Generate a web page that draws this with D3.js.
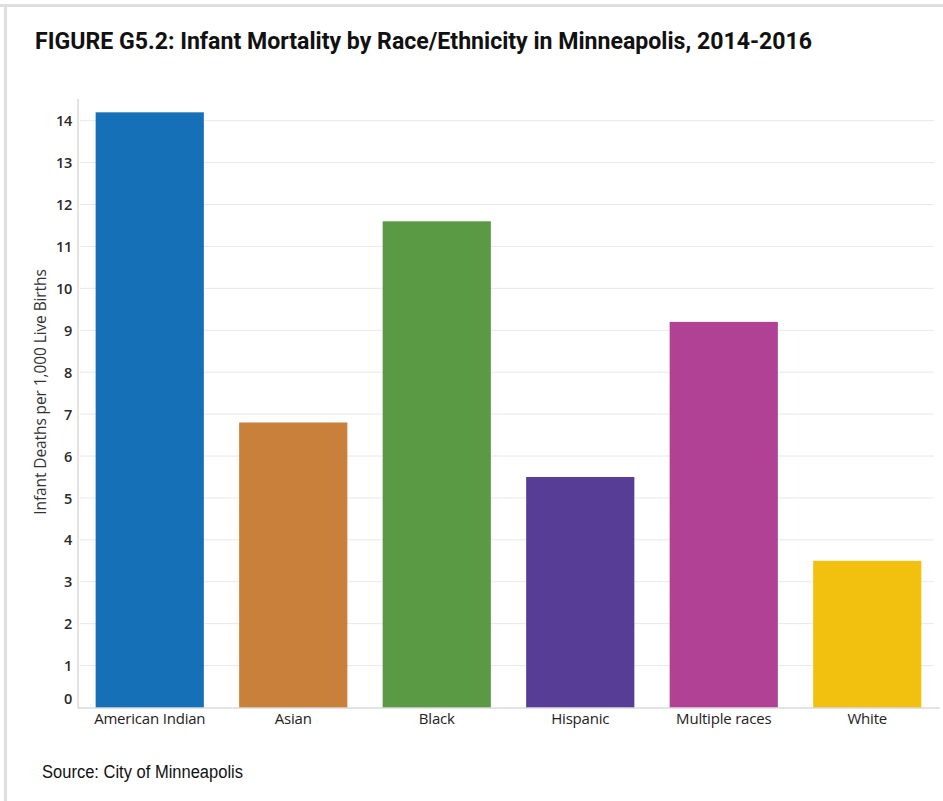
<!DOCTYPE html>
<html>
<head>
<meta charset="utf-8">
<script src="https://cdn.jsdelivr.net/npm/d3@7"></script>
<style>
html,body{margin:0;padding:0;background:#fff;}
svg{display:block;}
</style>
</head>
<body>
<svg id="chart" width="943" height="801"></svg>
<script>
const categories = ["American Indian", "Asian", "Black", "Hispanic", "Multiple races", "White"];
const values = [14.2, 6.8, 11.6, 5.5, 9.2, 3.5];
const colors = ["#1570b8", "#c8803a", "#5a9a45", "#583d96", "#b04194", "#f2c10f"];
const yTicks = [0,1,2,3,4,5,6,7,8,9,10,11,12,13,14];
const titleText = "FIGURE G5.2: Infant Mortality by Race/Ethnicity in Minneapolis, 2014-2016";
const yLabel = "Infant Deaths per 1,000 Live Births";
const sourceText = "Source: City of Minneapolis";

const svg = d3.select("#chart");

// frame
svg.append("rect").attr("x",0).attr("y",4).attr("width",943).attr("height",3).attr("fill","#dedede");
svg.append("rect").attr("x",4).attr("y",4).attr("width",3).attr("height",797).attr("fill","#dedede");

// title
svg.append("text")
  .attr("x",35).attr("y",49)
  .attr("font-family","'Liberation Sans Narrow','Roboto','Liberation Sans',sans-serif")
  .attr("font-weight","bold").attr("font-size",23.5)
  .attr("textLength",777).attr("lengthAdjust","spacingAndGlyphs")
  .attr("fill","#111")
  .text(titleText);

const x0 = 78, x1 = 939, yTop = 120.7, yBot = 707.5;
const x = d3.scaleBand().domain(categories).range([x0, x1]).paddingInner(0.246).paddingOuter(0.123);
const y = d3.scaleLinear().domain([0,14]).range([yBot, yTop]);

// gridlines
svg.append("g").selectAll("line").data(yTicks.filter(d=>d>0)).join("line")
  .attr("x1",x0+2).attr("x2",934)
  .attr("y1",d=>y(d)).attr("y2",d=>y(d))
  .attr("stroke","#e8e8e8").attr("stroke-width",1);

// bars
svg.append("g").selectAll("rect").data(categories).join("rect")
  .attr("x",d=>x(d)).attr("width",x.bandwidth())
  .attr("y",(d,i)=>y(values[i])).attr("height",(d,i)=>yBot - y(values[i]))
  .attr("fill",(d,i)=>colors[i]);

// y axis line
svg.append("line").attr("x1",x0).attr("x2",x0).attr("y1",99).attr("y2",yBot+1)
  .attr("stroke","#d0d0d0").attr("stroke-width",1.2);
// x axis line
svg.append("line").attr("x1",x0).attr("x2",940).attr("y1",yBot+0.5).attr("y2",yBot+0.5)
  .attr("stroke","#c8c8c8").attr("stroke-width",1.2);

// y tick labels
const yAxis = d3.axisLeft(y).tickValues(yTicks).tickSize(0).tickPadding(6).tickFormat(d3.format("d"));
const gy = svg.append("g").attr("transform",`translate(${x0},0)`).call(yAxis);
gy.select(".domain").remove();
gy.selectAll("text")
  .attr("font-family","'Open Sans','Noto Sans',sans-serif")
  .attr("font-size",14.5).attr("font-weight",600).attr("fill","#2a2a2a")
  .attr("letter-spacing","-0.3px")
  .attr("dy",(d)=> d===0 ? "-0.25em" : "0.35em");

// x tick labels
const xAxis = d3.axisBottom(x).tickSize(0).tickPadding(6);
const gx = svg.append("g").attr("transform",`translate(0,${yBot})`).call(xAxis);
gx.select(".domain").remove();
gx.selectAll("text")
  .attr("font-family","'Open Sans','Noto Sans',sans-serif")
  .attr("font-size",15).attr("font-weight",500).attr("fill","#222")
  .attr("letter-spacing","-0.2px");

// y label
svg.append("text")
  .attr("transform",`translate(46,392) rotate(-90)`)
  .attr("text-anchor","middle")
  .attr("font-family","'Open Sans','Noto Sans',sans-serif")
  .attr("font-size",15.5).attr("fill","#333")
  .attr("letter-spacing","-0.1px")
  .text(yLabel);

// source
svg.append("text")
  .attr("x",42).attr("y",778)
  .attr("font-family","'Liberation Sans Narrow','Liberation Sans',sans-serif")
  .attr("font-size",18).attr("fill","#111")
  .attr("textLength",201).attr("lengthAdjust","spacingAndGlyphs")
  .text(sourceText);
</script>
</body>
</html>
